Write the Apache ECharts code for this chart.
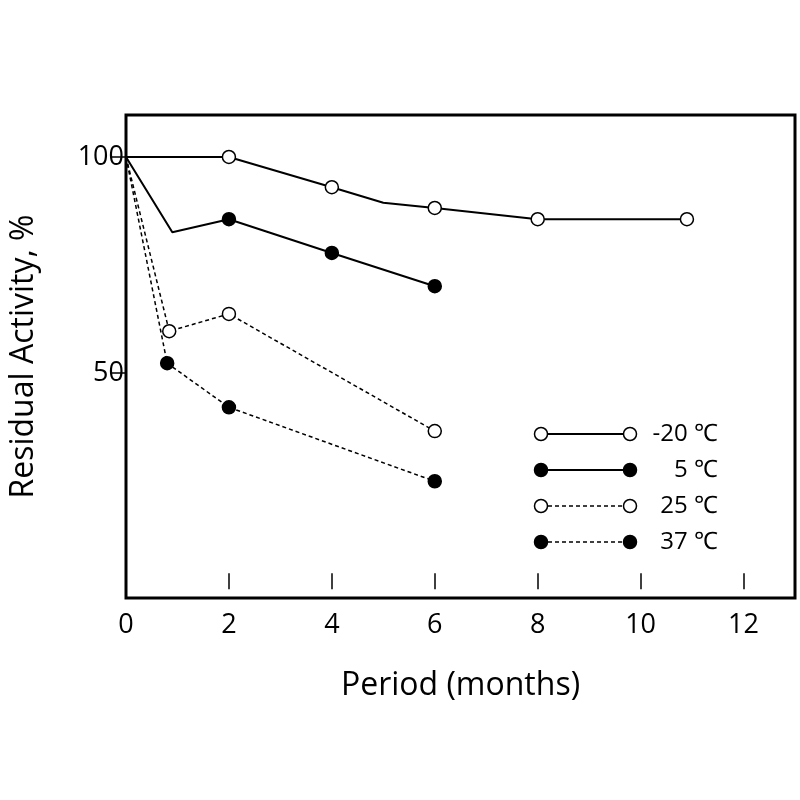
<!DOCTYPE html>
<html>
<head>
<meta charset="utf-8">
<script src="https://cdn.jsdelivr.net/npm/echarts@6/dist/echarts.min.js"></script>
<style>html,body{margin:0;background:#fff}#main{width:800px;height:800px}</style>
</head>
<body>
<div id="main"></div>
<script>
// [month, activity, marker?]
var m20 = [[0, 100, 0], [2, 100, 1], [4, 93, 1], [5, 89.4, 0], [6, 88.2, 1], [8, 85.6, 1], [10.9, 85.6, 1]];
var p5 = [[0, 100, 0], [0.9, 82.6, 0], [2, 85.6, 1], [4, 77.8, 1], [6, 70.1, 1]];
var p25 = [[0, 100, 0], [0.84, 59.7, 1], [2, 63.7, 1], [6, 36.6, 1]];
var p37 = [[0, 100, 0], [0.8, 52.3, 1], [2, 42.1, 1], [6, 25, 1]];
var xTicks = [0, 2, 4, 6, 8, 10, 12];
var yTicks = [50, 100];
var names = ['-20 ℃', '5 ℃', '25 ℃', '37 ℃'];

function mk(arr, filled, dashed, name) {
    return {
        name: name, type: 'line', clip: false, animation: false,
        data: arr.map(function (d) {
            return { value: [d[0], d[1]], symbol: d[2] ? 'circle' : 'none' };
        }),
        symbolSize: 13,
        lineStyle: { color: '#000', width: dashed ? 1.5 : 2, type: dashed ? [4, 3] : 'solid' },
        itemStyle: { color: filled ? '#000' : '#fff', borderColor: '#000', borderWidth: 1.5 }
    };
}

var legend = [];
var styles = [[0, 0], [1, 0], [0, 1], [1, 1]];
names.forEach(function (n, i) {
    var y = 434 + i * 36;
    legend.push({ type: 'line', shape: { x1: 541, y1: y, x2: 630, y2: y },
        style: { stroke: '#000', lineWidth: styles[i][1] ? 1.5 : 2, lineDash: styles[i][1] ? [4, 3] : null } });
    [541, 630].forEach(function (x) {
        legend.push({ type: 'circle', shape: { cx: x, cy: y, r: 6.5 }, z: 10,
            style: { fill: styles[i][0] ? '#000' : '#fff', stroke: '#000', lineWidth: 1.5 } });
    });
    legend.push({ type: 'text', x: 718, y: y, z: 10,
        style: { text: n, fill: '#000', font: '24px "Open Sans"', align: 'right', verticalAlign: 'middle' } });
});

var myChart = echarts.init(document.getElementById('main'));
var option = {
    backgroundColor: '#fff',
    grid: { left: 112, right: 5, top: 115, bottom: 202, show: true, borderColor: '#000', borderWidth: 3, backgroundColor: 'transparent' },
    xAxis: {
        type: 'value', min: 0, max: 13,
        name: 'Period (months)', nameLocation: 'middle', nameGap: 72,
        nameTextStyle: { fontSize: 32, color: '#000', fontFamily: 'Open Sans' },
        axisLine: { show: false }, splitLine: { show: false },
        axisTick: { inside: true, length: 16, customValues: xTicks, lineStyle: { color: '#000', width: 1.5 } },
        axisLabel: { customValues: xTicks, fontSize: 27, color: '#000', fontFamily: 'Open Sans', margin: 14 }
    },
    yAxis: {
        type: 'value', min: -2, max: 109.7,
        name: 'Residual Activity, %', nameLocation: 'middle', nameGap: 86,
        nameTextStyle: { fontSize: 32, color: '#000', fontFamily: 'Open Sans' },
        axisLine: { show: false }, splitLine: { show: false },
        axisTick: { length: 14, customValues: yTicks, lineStyle: { color: '#000', width: 1.5 } },
        axisLabel: { customValues: yTicks, fontSize: 27, color: '#000', fontFamily: 'Open Sans', margin: 2 }
    },
    graphic: legend,
    series: [mk(m20, false, false, names[0]), mk(p5, true, false, names[1]),
             mk(p25, false, true, names[2]), mk(p37, true, true, names[3])]
};
myChart.setOption(option);
</script>
</body>
</html>
